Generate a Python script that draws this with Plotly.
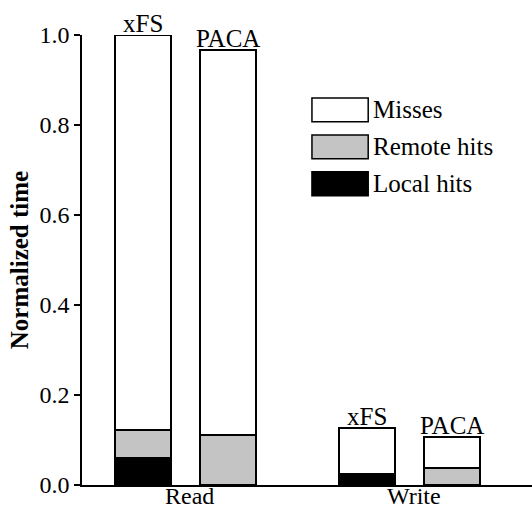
import plotly.graph_objects as go

# ---- data ----
groups = ["Read", "Write"]
systems = ["xFS", "PACA"]
local_hits = {"Read": [0.060, 0.000], "Write": [0.024, 0.000]}
remote_hits = {"Read": [0.062, 0.111], "Write": [0.000, 0.038]}
misses = {"Read": [0.878, 0.856], "Write": [0.103, 0.069]}
y_ticks = [0.0, 0.2, 0.4, 0.6, 0.8, 1.0]

# ---- layout helpers ----
offset = 0.19
bar_w = 0.25
xs, labels, loc, rem, mis = [], [], [], [], []
for gi, g in enumerate(groups):
    for si, s in enumerate(systems):
        xs.append(gi + (si - 0.5) * 2 * offset)
        labels.append(s)
        loc.append(local_hits[g][si])
        rem.append(remote_hits[g][si])
        mis.append(misses[g][si])
totals = [a + b + c for a, b, c in zip(loc, rem, mis)]

FONT = "Liberation Serif"
FS = 25
GRAY = "#c4c4c4"
line = dict(color="black", width=1.5)

fig = go.Figure()
fig.add_bar(x=xs, y=loc, width=bar_w, name="Local hits",
            marker=dict(color="black", line=line))
fig.add_bar(x=xs, y=rem, width=bar_w, name="Remote hits",
            marker=dict(color=GRAY, line=line))
fig.add_bar(x=xs, y=mis, width=bar_w, name="Misses",
            marker=dict(color="white", line=line))

for x, t, lab in zip(xs, totals, labels):
    fig.add_annotation(x=x, y=t, text=lab, showarrow=False, yanchor="bottom",
                       yshift=-4, font=dict(family=FONT, size=FS, color="black"))

# category labels below the axis
for gi, g in enumerate(groups):
    fig.add_annotation(x=gi + 0.02, xref="x", y=0, yref="paper", text=g,
                       showarrow=False, yanchor="middle", yshift=-11,
                       borderpad=0,
                       font=dict(family=FONT, size=24, color="black"))

# manual legend (large boxes)
leg = [("Misses", "white"), ("Remote hits", GRAY), ("Local hits", "black")]
y0 = 0.860
for i, (name, col) in enumerate(leg):
    top = y0 - i * 0.082
    fig.add_shape(type="rect", xref="paper", yref="paper",
                  x0=0.511, x1=0.636, y0=top - 0.053, y1=top,
                  fillcolor=col, line=dict(color="black", width=1.5))
    fig.add_annotation(xref="paper", yref="paper", x=0.642, y=top - 0.0265,
                       text=name, showarrow=False, xanchor="left",
                       yanchor="middle",
                       font=dict(family=FONT, size=FS, color="black"))

fig.update_layout(
    width=532, height=510,
    margin=dict(l=82, r=0, t=35, b=25),
    barmode="stack", showlegend=False,
    plot_bgcolor="white", paper_bgcolor="white",
    font=dict(family=FONT, size=FS, color="black"),
    xaxis=dict(range=[-0.462, 1.547], showticklabels=False,
               showline=True, linecolor="black", linewidth=1.5,
               ticks="", showgrid=False, zeroline=False, automargin=False),
    yaxis=dict(range=[0, 1.0], tickvals=y_ticks, tickformat=".1f",
               showline=True, linecolor="black", linewidth=1.5,
               ticks="outside", ticklen=6, tickwidth=1.5, tickcolor="black",
               showgrid=False, zeroline=False, automargin=False,
               tickfont=dict(family=FONT, size=24),
               title=dict(text="<b>Normalized time</b>", standoff=4,
                          font=dict(family=FONT, size=FS))),
)

fig.write_html("out.html")
